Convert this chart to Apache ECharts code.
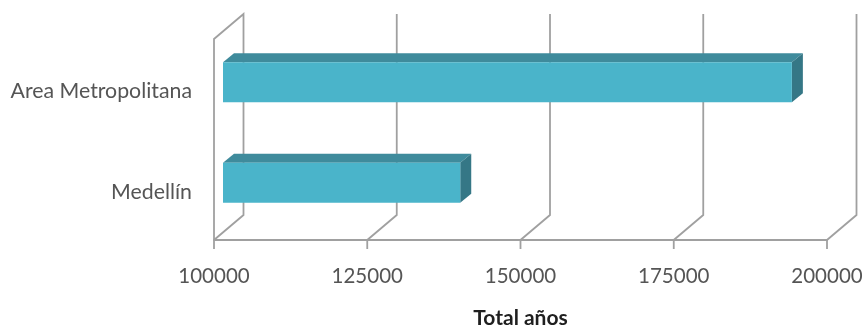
<!DOCTYPE html>
<html>
<head>
<meta charset="utf-8">
<style>html,body{margin:0;padding:0;background:#fff}#chart{width:866px;height:326px}</style>
<script src="https://cdn.jsdelivr.net/npm/echarts@6/dist/echarts.min.js"></script>
</head>
<body>
<div id="chart"></div>
<script>
const categories = ['Medellín', 'Area Metropolitana'];
const totals = [138700, 192800];
const ticks = [100000, 125000, 150000, 175000, 200000];
const axisTitle = 'Total años';

const gridColor = '#a0a0a0';
const faceColor = '#4ab4ca';
const topColor = '#3f8b9c';
const sideColor = '#357786';
const labelColor = '#555555';
const font = 'Lato';

// Depth of the back wall, and of the bars, in screen pixels
const wallDepth = { x: 29.5, y: 25 };
const barDepth = { x: 11, y: 9 };
const barPlane = { x: 9, y: 7 };
const barBandShare = 0.4;
const tickLength = 9;

// Walls: every tick runs back along the floor and up the rear plane
function renderWall(params, api) {
  const cs = params.coordSys;
  const x = api.coord([api.value(0), 0])[0];
  const bottom = cs.y + cs.height;
  const points = [
    [x, bottom + tickLength],
    [x, bottom],
    [x + wallDepth.x, bottom - wallDepth.y],
    [x + wallDepth.x, cs.y - wallDepth.y]
  ];
  if (params.dataIndex === 0) {
    points.push([x, cs.y], [x, bottom]);
  }
  return {
    type: 'polyline',
    silent: true,
    shape: { points },
    style: { fill: null, stroke: gridColor, lineWidth: 1.8 }
  };
}

// Bars: a front face plus the top and end faces that give the box its depth
function renderBar(params, api) {
  const cs = params.coordSys;
  const end = api.coord([api.value(0), api.value(1)]);
  const h = api.size([0, 1])[1] * barBandShare;
  const left = cs.x + barPlane.x;
  const right = end[0] + barPlane.x;
  const top = end[1] - barPlane.y - h / 2;
  const bottom = top + h;
  const dx = barDepth.x;
  const dy = barDepth.y;
  return {
    type: 'group',
    children: [
      {
        type: 'polygon',
        shape: { points: [[left, top], [left + dx, top - dy], [right + dx, top - dy], [right, top]] },
        style: { fill: topColor }
      },
      {
        type: 'polygon',
        shape: { points: [[right, top], [right + dx, top - dy], [right + dx, bottom - dy], [right, bottom]] },
        style: { fill: sideColor }
      },
      {
        type: 'rect',
        shape: { x: left, y: top, width: right - left, height: h },
        style: { fill: faceColor }
      }
    ]
  };
}

const chart = echarts.init(document.getElementById('chart'), null, { renderer: 'canvas' });
chart.setOption({
  animation: false,
  backgroundColor: '#ffffff',
  grid: { left: 214, right: 39, top: 39, bottom: 86, outerBoundsMode: 'none' },
  xAxis: {
    type: 'value',
    min: ticks[0],
    max: ticks[ticks.length - 1],
    interval: ticks[1] - ticks[0],
    name: axisTitle,
    nameLocation: 'middle',
    nameGap: 68,
    nameTextStyle: { fontFamily: font, fontSize: 21, fontWeight: 'bold', color: '#1f1f1f' },
    axisLine: { show: true, lineStyle: { color: gridColor, width: 1.8 } },
    axisTick: { show: false },
    axisLabel: { show: true, margin: 26, fontFamily: font, fontSize: 20.5, color: labelColor, formatter: v => String(v) },
    splitLine: { show: false }
  },
  yAxis: {
    type: 'category',
    data: categories,
    axisLine: { show: false },
    axisTick: { show: false },
    axisLabel: {
      margin: 22,
      formatter: v => '{name|' + v + '}',
      rich: { name: { padding: [4, 0, 0, 0], fontFamily: font, fontSize: 21.3, color: labelColor } }
    },
    splitLine: { show: false }
  },
  series: [
    {
      type: 'custom',
      name: 'walls',
      renderItem: renderWall,
      clip: false,
      silent: true,
      encode: { x: 0 },
      data: ticks.map(t => [t])
    },
    {
      type: 'custom',
      name: axisTitle,
      renderItem: renderBar,
      clip: false,
      encode: { x: 0, y: 1 },
      data: totals.map((v, i) => [v, i])
    }
  ]
});
</script>
</body>
</html>
